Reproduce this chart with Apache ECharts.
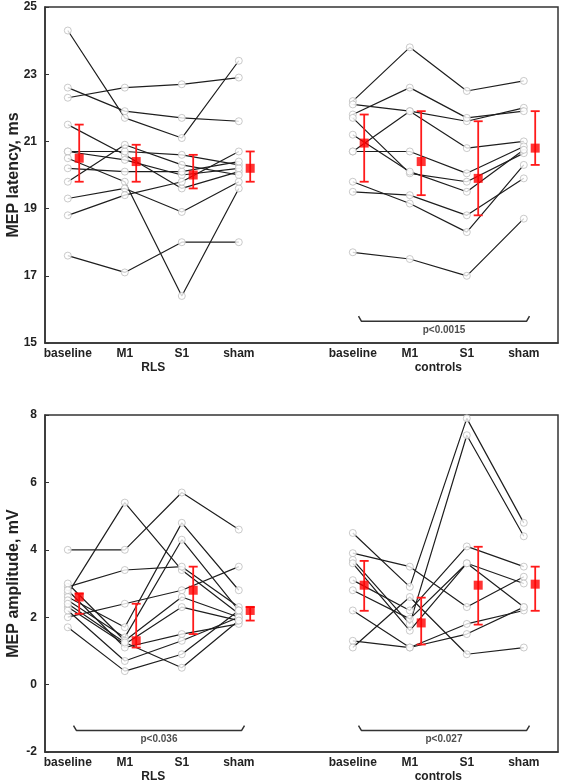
<!DOCTYPE html>
<html><head><meta charset="utf-8">
<script src="https://cdn.jsdelivr.net/npm/echarts@6/dist/echarts.min.js"></script>
<style>html,body{margin:0;padding:0;background:#fff}#c{width:562px;height:781px}</style>
</head><body><div id="c"></div><script>
// ---------- data ----------
const categories = ['baseline', 'M1', 'S1', 'sham'];
const groups = ['RLS', 'controls'];
const latencyTicks = [15, 17, 19, 21, 23, 25];
const amplitudeTicks = [-2, 0, 2, 4, 6, 8];
const latencyTitle = 'MEP latency, ms';
const amplitudeTitle = 'MEP amplitude, mV';

// individual subjects (baseline, M1, S1, sham)
const latencyRLS = [
  [24.3, 21.7, 21.1, 23.4],
  [22.6, 21.9, 21.7, 21.6],
  [22.3, 22.6, 22.7, 22.9],
  [21.5, 20.6, 19.6, 20.1],
  [20.7, 20.7, 20.6, 20.3],
  [20.7, 20.45, 20.0, 20.2],
  [20.5, 19.8, 16.4, 19.6],
  [20.2, 20.1, 20.1, 20.4],
  [19.8, 20.9, 20.3, 20.0],
  [19.3, 19.6, 18.9, 19.8],
  [18.8, 19.4, 19.8, 20.7],
  [17.6, 17.1, 18.0, 18.0]
];
const latencyRLSMean = [20.5, 20.4, 20.0, 20.2];
const latencyRLSLow = [19.8, 19.8, 19.6, 19.8];
const latencyRLSHigh = [21.5, 20.9, 20.6, 20.7];

const latencyCtrl = [
  [22.2, 23.8, 22.5, 22.8],
  [22.1, 21.9, 21.6, 22.0],
  [21.8, 22.6, 21.7, 21.9],
  [20.7, 21.9, 20.8, 21.0],
  [20.7, 20.7, 20.05, 20.85],
  [21.7, 20.05, 19.8, 20.65],
  [21.2, 20.1, 19.5, 20.75],
  [19.8, 19.15, 18.3, 20.3],
  [19.5, 19.4, 18.8, 19.9],
  [17.7, 17.5, 17.0, 18.7]
];
const latencyCtrlMean = [20.95, 20.4, 19.9, 20.8];
const latencyCtrlLow = [19.8, 19.4, 18.8, 20.3];
const latencyCtrlHigh = [21.8, 21.9, 21.6, 21.9];

const amplitudeRLS = [
  [2.7, 5.4, 3.4, 2.1],
  [4.0, 4.0, 5.7, 4.6],
  [2.9, 3.4, 3.5, 2.3],
  [2.0, 2.4, 2.8, 3.5],
  [2.6, 1.7, 4.8, 2.8],
  [2.5, 1.4, 4.3, 2.2],
  [3.0, 1.3, 2.6, 2.0],
  [2.3, 1.2, 2.3, 1.9],
  [2.8, 1.1, 1.5, 1.8],
  [2.2, 0.7, 1.3, 2.0],
  [2.4, 1.25, 0.5, 1.9],
  [1.7, 0.4, 0.9, 2.2]
];
const amplitudeRLSMean = [2.6, 1.3, 2.8, 2.2];
const amplitudeRLSLow = [2.1, 1.1, 1.5, 1.9];
const amplitudeRLSHigh = [2.7, 2.4, 3.5, 2.3];

const amplitudeCtrl = [
  [4.5, 2.9, 7.9, 4.8],
  [3.9, 3.5, 2.3, 3.2],
  [3.7, 1.8, 7.4, 4.4],
  [3.6, 1.6, 3.6, 3.0],
  [3.1, 2.2, 4.1, 3.5],
  [2.8, 1.95, 3.6, 2.3],
  [2.2, 1.1, 1.8, 2.2],
  [1.3, 1.1, 1.5, 2.3],
  [1.1, 2.6, 0.9, 1.1]
];
const amplitudeCtrlMean = [2.95, 1.83, 2.95, 2.98];
const amplitudeCtrlLow = [2.19, 1.19, 1.78, 2.19];
const amplitudeCtrlHigh = [3.67, 2.58, 4.09, 3.5];

const latencyPValues = ['', 'p<0.0015'];
const amplitudePValues = ['p<0.036', 'p<0.027'];

// ---------- layout (positions in axis units) ----------
const GROUP_START = [0.4, 5.4];
const MEAN_SHIFT = 0.2;
const catPos = [];
const catName = [];
groups.forEach((g, gi) => categories.forEach((c, ci) => { catPos.push(GROUP_START[gi] + ci); catName.push(c); }));
const groupPos = GROUP_START.map(s => s + 1.5);
const FONT = '"Liberation Sans", Arial, sans-serif';
const INK = '#222';

function labelFor(list, names) {
  return v => { for (let i = 0; i < list.length; i++) if (Math.abs(list[i] - v) < 1e-6) return names[i]; return ''; };
}

function xAxes(gridIndex) {
  return [
    {
      gridIndex, type: 'value', min: 0, max: 9,
      axisLine: { show: true, onZero: false, lineStyle: { color: '#333', width: 1.5 } },
      axisTick: { show: false }, splitLine: { show: false },
      axisLabel: { customValues: catPos, formatter: labelFor(catPos, catName), margin: 5,
        fontFamily: FONT, fontWeight: 'bold', fontSize: 12, color: INK }
    },
    {
      gridIndex, type: 'value', min: 0, max: 9, position: 'bottom',
      axisLine: { show: false, onZero: false }, axisTick: { show: false }, splitLine: { show: false },
      axisLabel: { customValues: groupPos, formatter: labelFor(groupPos, groups), margin: 19,
        fontFamily: FONT, fontWeight: 'bold', fontSize: 12, color: INK }
    }
  ];
}

function yAxis(gridIndex, min, max, ticks, name) {
  return {
    gridIndex, type: 'value', min, max,
    name, nameLocation: 'middle', nameGap: 23, nameRotate: 90, nameMoveOverlap: false,
    nameTextStyle: { fontFamily: FONT, fontWeight: 'bold', fontSize: 16, color: INK },
    axisLine: { show: true, onZero: false, lineStyle: { color: '#333', width: 1.5 } },
    axisTick: { show: true, inside: true, length: 4, customValues: ticks, lineStyle: { color: '#333' } },
    splitLine: { show: false },
    axisLabel: { customValues: ticks, margin: 8, fontFamily: FONT, fontWeight: 'bold', fontSize: 12, color: INK }
  };
}

const series = [];
function addGroup(gi, xAxisIndex, yAxisIndex, subjects, mean, low, high) {
  const start = GROUP_START[gi];
  const pts = [];
  subjects.forEach(s => {
    const d = s.map((v, i) => [start + i, v]);
    series.push({ type: 'line', xAxisIndex, yAxisIndex, data: d, symbol: 'none', z: 2,
      lineStyle: { color: '#1e1e1e', width: 1.2 }, silent: true });
    d.forEach(p => pts.push(p));
  });
  series.push({ type: 'scatter', xAxisIndex, yAxisIndex, data: pts, symbol: 'circle', symbolSize: 7, z: 3,
    itemStyle: { color: '#fff', borderColor: '#bdbdbd', borderWidth: 1 }, silent: true });
  const eb = mean.map((m, i) => [start + i + MEAN_SHIFT, low[i], high[i]]);
  series.push({
    type: 'custom', xAxisIndex, yAxisIndex, data: eb, z: 4, silent: true,
    renderItem: (params, api) => {
      const lo = api.coord([api.value(0), api.value(1)]);
      const hi = api.coord([api.value(0), api.value(2)]);
      const w = 4.5;
      const st = { stroke: '#ff1a1a', lineWidth: 1.8 };
      return { type: 'group', children: [
        { type: 'line', shape: { x1: lo[0], y1: lo[1], x2: hi[0], y2: hi[1] }, style: st },
        { type: 'line', shape: { x1: lo[0] - w, y1: lo[1], x2: lo[0] + w, y2: lo[1] }, style: st },
        { type: 'line', shape: { x1: hi[0] - w, y1: hi[1], x2: hi[0] + w, y2: hi[1] }, style: st }
      ] };
    }
  });
  series.push({ type: 'scatter', xAxisIndex, yAxisIndex, data: mean.map((m, i) => [start + i + MEAN_SHIFT, m]),
    symbol: 'rect', symbolSize: 9, z: 5, itemStyle: { color: '#ff0000' }, silent: true });
}

function addBracket(gi, xAxisIndex, yAxisIndex, text, yLine, hook, yText) {
  if (!text) return;
  const a = GROUP_START[gi] + 0.1, b = GROUP_START[gi] + 3.1;
  series.push({ type: 'line', xAxisIndex, yAxisIndex, symbol: 'none', z: 2, silent: true,
    data: [[a, yLine + hook], [a + 0.05, yLine], [b - 0.05, yLine], [b, yLine + hook]],
    lineStyle: { color: '#333', width: 1.5 } });
  series.push({ type: 'scatter', xAxisIndex, yAxisIndex, symbolSize: 1, z: 6, silent: true,
    itemStyle: { color: 'transparent' },
    data: [[GROUP_START[gi] + 1.6, yText]],
    label: { show: true, position: 'inside', formatter: text, fontFamily: FONT, fontWeight: 'bold', fontSize: 10, color: INK } });
}

addGroup(0, 0, 0, latencyRLS, latencyRLSMean, latencyRLSLow, latencyRLSHigh);
addGroup(1, 0, 0, latencyCtrl, latencyCtrlMean, latencyCtrlLow, latencyCtrlHigh);
addGroup(0, 2, 1, amplitudeRLS, amplitudeRLSMean, amplitudeRLSLow, amplitudeRLSHigh);
addGroup(1, 2, 1, amplitudeCtrl, amplitudeCtrlMean, amplitudeCtrlLow, amplitudeCtrlHigh);
latencyPValues.forEach((t, gi) => addBracket(gi, 0, 0, t, 15.65, 0.15, 15.38));
amplitudePValues.forEach((t, gi) => addBracket(gi, 2, 1, t, -1.36, 0.14, -1.62));

const chart = echarts.init(document.getElementById('c'), null, { renderer: 'canvas' });
chart.setOption({
  animation: false,
  backgroundColor: '#fff',
  grid: [
    { left: 45, top: 7, width: 513, height: 336, show: true, borderColor: '#333', borderWidth: 1.5,
      backgroundColor: 'transparent', containLabel: false, outerBoundsMode: 'none' },
    { left: 45, top: 415, width: 513, height: 337, show: true, borderColor: '#333', borderWidth: 1.5,
      backgroundColor: 'transparent', containLabel: false, outerBoundsMode: 'none' }
  ],
  xAxis: [...xAxes(0), ...xAxes(1)],
  yAxis: [
    yAxis(0, 15, 25, latencyTicks, latencyTitle),
    yAxis(1, -2, 8, amplitudeTicks, amplitudeTitle)
  ],
  series
});
</script></body></html>
